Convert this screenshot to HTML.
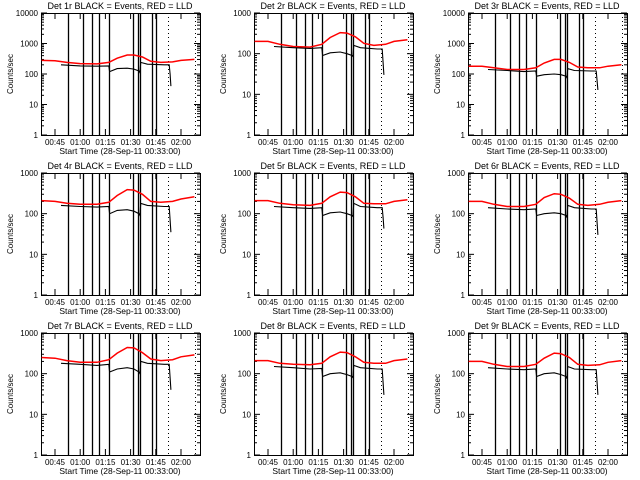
<!DOCTYPE html>
<html><head><meta charset="utf-8"><style>
html,body{margin:0;padding:0;background:#fff;}
svg{display:block;font-family:"Liberation Sans",sans-serif;}
</style></head><body>
<svg id="chart" width="640" height="480"></svg>
<script>
const panelTitles = ["Det 1r","Det 2r","Det 3r","Det 4r","Det 5r","Det 6r","Det 7r","Det 8r","Det 9r"];
const yMaxExp = [4,3,4,3,3,3,3,3,3];
const tickTimes = [45,60,75,90,105,120];
const tickLabels = ["00:45","01:00","01:15","01:30","01:45","02:00"];
const solidLineTimes = [52.7,61.7,67,71.2,77.1,91.4,94.4,95.6,102.7,105.1];
const dottedLineTimes = [112.3,128.3];
const redTimes = [37,45,52,60,70,77,82,88,92,97,102,108,115,120,128];
const blackTimes = [48.6,60,70,77,77.5,82,88,92,95,95.6,96,100,110,113,113.5,114];
const redValues = [
 [280,270,240,220,215,240,330,420,420,360,260,240,250,280,300],
 [200,200,170,150,145,170,250,330,320,260,180,160,170,200,220],
 [180,180,160,140,140,160,230,300,300,240,170,160,160,180,200],
 [210,200,180,170,170,190,280,390,380,300,200,190,200,230,260],
 [210,210,180,165,160,180,260,340,330,260,180,175,175,200,220],
 [200,200,170,150,150,170,250,310,300,240,170,160,170,190,210],
 [250,240,210,190,190,220,320,440,430,330,230,210,220,260,290],
 [210,210,180,170,165,180,260,340,330,260,190,180,180,210,230],
 [200,200,170,150,150,170,240,320,310,250,170,160,165,190,210]];
const blackValues = [
 [200,185,180,185,120,150,155,145,125,110,240,210,200,200,100,40],
 [150,140,135,140,90,105,110,100,90,85,160,140,130,130,60,30],
 [140,130,120,125,85,95,100,95,85,75,150,130,125,125,60,30],
 [160,150,145,150,100,120,125,115,100,90,180,160,150,150,70,35],
 [150,140,135,140,90,105,110,100,90,85,180,150,140,140,80,43],
 [140,130,125,130,90,100,105,100,90,80,160,140,130,130,60,30],
 [180,170,160,170,110,130,140,130,110,100,200,180,170,170,80,40],
 [150,140,130,135,85,100,105,95,85,80,160,140,130,130,60,30],
 [140,130,125,130,85,100,105,95,85,75,150,130,125,125,60,30]];

const NS="http://www.w3.org/2000/svg";
const svg=document.getElementById('chart');
function mk(tag,attrs,parent){const e=document.createElementNS(NS,tag);for(const k in attrs)e.setAttribute(k,attrs[k]);parent.appendChild(e);return e;}
const L=41,R=200,T=13,B=135;
for(let p=0;p<9;p++){
  const ox=[0,213,427][p%3], oy=[0,160,320][Math.floor(p/3)];
  const g=mk('g',{transform:`translate(${ox},${oy})`},svg);
  
  
  const xs=t=>55+(t-45)*1.68;
  const emax=yMaxExp[p];
  const ys=v=>T+(emax-Math.log10(v))*(B-T)/emax;
  const tt=mk('text',{x:120,y:9,'text-anchor':'middle','font-size':'9'},g);
  tt.textContent=panelTitles[p]+" BLACK = Events, RED = LLD";
  
  
  const fr=mk('rect',{x:L+0.5,y:T+0.5,width:R-L,height:B-T,fill:'none',stroke:'#000','stroke-width':1},g);
  
  
  for(let e=0;e<=emax;e++){
    const y=ys(Math.pow(10,e));
    mk('line',{x1:L,x2:L+6,y1:y,y2:y,stroke:'#000'},g);
    mk('line',{x1:R-6,x2:R,y1:y,y2:y,stroke:'#000'},g);
    const lb=mk('text',{x:L-3,y:y+3,'text-anchor':'end','font-size':'8'},g);
    lb.textContent=String(Math.pow(10,e));
    
    
    if(e<emax)for(let m=2;m<=9;m++){const ym=ys(m*Math.pow(10,e));
      mk('line',{x1:L,x2:L+3,y1:ym,y2:ym,stroke:'#000'},g);
      mk('line',{x1:R-3,x2:R,y1:ym,y2:ym,stroke:'#000'},g);}
  }
  tickTimes.forEach((t,i)=>{const x=xs(t);
    mk('line',{x1:x,x2:x,y1:B,y2:B-6,stroke:'#000'},g);
    mk('line',{x1:x,x2:x,y1:T,y2:T+6,stroke:'#000'},g);
    const lb=mk('text',{x:x,y:B+10,'text-anchor':'middle','font-size':'8'},g);
    lb.textContent=tickLabels[i];
    
    
  });
  const xl=mk('text',{x:120,y:B+19,'text-anchor':'middle','font-size':'8.5'},g);
  xl.textContent="Start Time (28-Sep-11 00:33:00)";
  
  
  const yl=mk('text',{x:0,y:0,'text-anchor':'middle','font-size':'8',transform:`translate(13,${(T+B)/2}) rotate(-90)`},g);
  yl.textContent="Counts/sec";
  
  
  solidLineTimes.forEach(t=>{const x=Math.round(xs(t))+0.5;
    const l=mk('line',{x1:x,x2:x,y1:T,y2:B,stroke:'#000','stroke-width':1.3},g);
    
    });
  dottedLineTimes.forEach(t=>{const x=Math.round(xs(t))+0.5;
    const l=mk('line',{x1:x,x2:x,y1:T,y2:B,stroke:'#000','stroke-width':1,'stroke-dasharray':'1,3'},g);
    
    });
  const rp=mk('polyline',{points:redTimes.map((t,i)=>xs(t).toFixed(1)+','+ys(redValues[p][i]).toFixed(1)).join(' '),fill:'none',stroke:'#f00','stroke-width':1.5},g);
  
  
  const bp=mk('polyline',{points:blackTimes.map((t,i)=>xs(t).toFixed(1)+','+ys(blackValues[p][i]).toFixed(1)).join(' '),fill:'none',stroke:'#000','stroke-width':1.1},g);
  
  
}
</script>
</body></html>
